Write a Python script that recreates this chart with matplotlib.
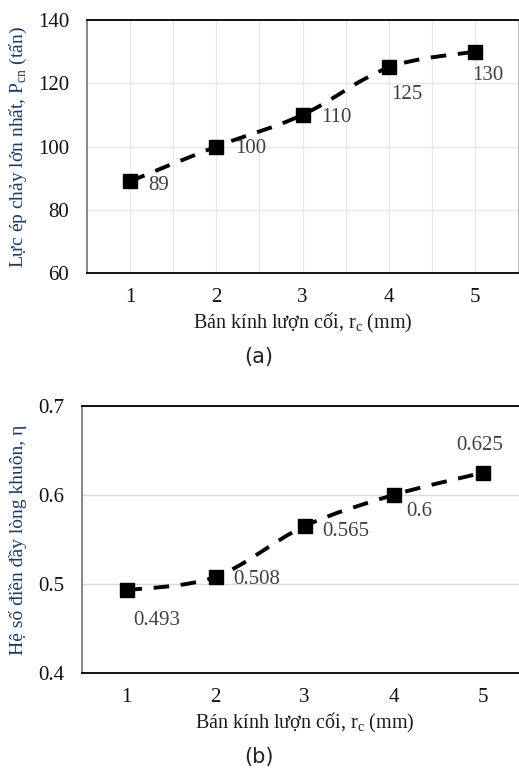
import matplotlib
matplotlib.use('Agg')
import matplotlib.pyplot as plt
from matplotlib.path import Path
from matplotlib.patches import PathPatch

# Data
radius = [1, 2, 3, 4, 5]
force = [89, 100, 110, 125, 130]
fill_ratio = [0.493, 0.508, 0.565, 0.6, 0.625]

force_offsets = [(18, -4), (19, -2), (19, -3), (2, -27), (-3, -24)]
fill_offsets = [(7, -30), (18, -3), (18, -5), (13, -16), (-3, 27)]
fill_ha = ['left', 'left', 'left', 'left', 'center']

plt.rcParams['font.family'] = ['Liberation Serif', 'DejaVu Serif']
plt.rcParams['mathtext.fontset'] = 'custom'
plt.rcParams['mathtext.rm'] = 'Liberation Serif'

W, H = 519, 772
fig = plt.figure(figsize=(W / 100, H / 100), dpi=100)


def box(left, top, right, bottom):
    return [left / W, (H - bottom) / H, (right - left) / W, (bottom - top) / H]


def smooth_path(xs, ys):
    # Excel-like smoothed line: cubic bezier through every point
    verts = [(xs[0], ys[0])]
    codes = [Path.MOVETO]
    n = len(xs)
    for i in range(n - 1):
        x0, y0 = xs[max(i - 1, 0)], ys[max(i - 1, 0)]
        x1, y1 = xs[i], ys[i]
        x2, y2 = xs[i + 1], ys[i + 1]
        x3, y3 = xs[min(i + 2, n - 1)], ys[min(i + 2, n - 1)]
        c1 = (x1 + (x2 - x0) / 6, y1 + (y2 - y0) / 6)
        c2 = (x2 - (x3 - x1) / 6, y2 - (y3 - y1) / 6)
        verts += [c1, c2, (x2, y2)]
        codes += [Path.CURVE4] * 3
    return Path(verts, codes)


def draw(ax, ys, offsets, has):
    patch = PathPatch(smooth_path(radius, ys), fill=False, edgecolor='black',
                      linewidth=2.8, linestyle=(0, (4, 3)), zorder=3)
    ax.add_patch(patch)
    ax.plot(radius, ys, linestyle='none', marker='s', markersize=10,
            color='black', zorder=4)
    for x, y, off, ha in zip(radius, ys, offsets, has):
        ax.annotate('{:g}'.format(y), (x, y), xytext=off,
                    textcoords='offset pixels', ha=ha, va='center',
                    fontsize=15, color='#404040')
    ax.set_xlim(0.5, 5.5)
    ax.set_xticks(radius)
    ax.tick_params(length=0, labelsize=15, colors='#111111')
    ax.tick_params(axis='y', pad=13)
    ax.tick_params(axis='x', pad=11)
    ax.set_axisbelow(True)
    ax.spines['left'].set_color('#7f7f7f')
    ax.spines['left'].set_linewidth(1.3)
    ax.spines['top'].set_linewidth(1.3)
    ax.spines['bottom'].set_linewidth(1.3)
    ax.set_xlabel('Bán kính lượn cối, r$_{\\mathrm{c}}$ (mm)', fontsize=14.5,
                  color='#1a1a1a', labelpad=3)


# (a) extrusion force
ax1 = fig.add_axes(box(87, 20, 518, 273))
draw(ax1, force, force_offsets, ['left'] * 5)
ax1.set_ylim(60, 140)
ax1.set_yticks([60, 80, 100, 120, 140])
ax1.set_xticks([1.5, 2.5, 3.5, 4.5], minor=True)
ax1.tick_params(which='minor', length=0)
ax1.grid(True, which='both', color='#e8e8e8', linewidth=1)
ax1.spines['right'].set_color('#bfbfbf')
ax1.set_ylabel('Lực ép chảy lớn nhất, P$_{\\mathrm{cn}}$ (tấn)', fontsize=14,
               color='#1f3864', labelpad=6)

# (b) die filling ratio
ax2 = fig.add_axes(box(82, 406, 527, 673))
draw(ax2, fill_ratio, fill_offsets, fill_ha)
ax2.set_ylim(0.4, 0.7)
ax2.set_yticks([0.4, 0.5, 0.6, 0.7])
ax2.grid(True, axis='y', color='#d9d9d9', linewidth=1)
ax2.set_ylabel('Hệ số điền đầy lòng khuôn, η', fontsize=14,
               color='#1f3864', labelpad=8)

cap_font = ['Liberation Sans Narrow', 'DejaVu Sans']
fig.text(259 / W, 1 - 357 / H, '(a)', ha='center', va='center', fontsize=15,
         family=cap_font, color='#222222')
fig.text(259 / W, 1 - 757 / H, '(b)', ha='center', va='center', fontsize=15,
         family=cap_font, color='#222222')

fig.savefig('out.png', dpi=100)
